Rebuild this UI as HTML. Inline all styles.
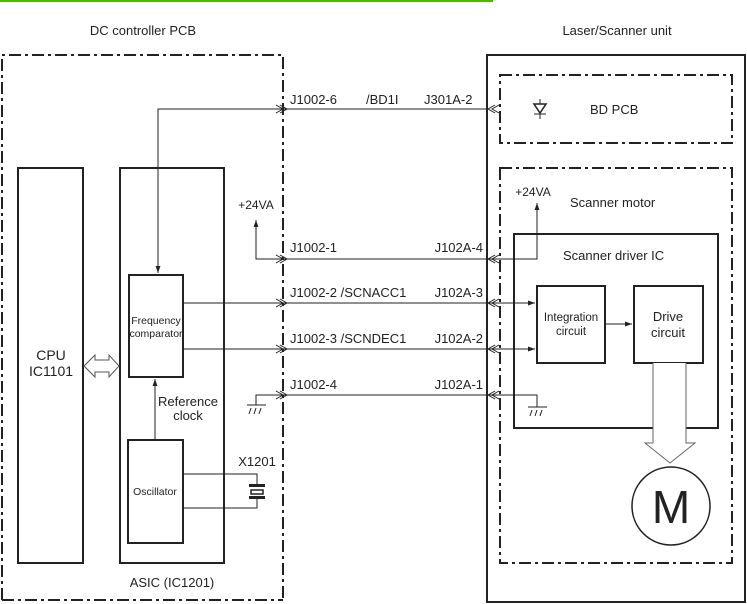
<!DOCTYPE html>
<html><head><meta charset="utf-8"><style>
html,body{margin:0;padding:0;background:#fff;}
svg{display:block;}
text{font-family:"Liberation Sans",Arial,sans-serif;fill:#222;}
</style></head><body>
<svg width="747" height="604" viewBox="0 0 747 604" xmlns="http://www.w3.org/2000/svg">
<defs>
<marker id="a" viewBox="0 0 10 10" refX="10" refY="5" markerWidth="7" markerHeight="7" orient="auto-start-reverse" markerUnits="userSpaceOnUse"><path d="M0,1.5 L10,5 L0,8.5 Z" fill="#222"/></marker>
</defs>
<rect x="0" y="0" width="493" height="2" fill="#4cb800"/>
<text x="143" y="35" font-size="13" text-anchor="middle">DC controller PCB</text>
<text x="617" y="35" font-size="13" text-anchor="middle">Laser/Scanner unit</text>

<g fill="none" stroke="#222" stroke-width="2" stroke-dasharray="12,4,3,4">
<path d="M2,600 L2,55 L283,55 L283,600"/>
<path d="M2,600 L283,600"/>
<rect x="500" y="75" width="232" height="68"/>
<rect x="500" y="168" width="232" height="395"/>
</g>
<rect x="487" y="55" width="258" height="547" fill="none" stroke="#222" stroke-width="2"/>

<g fill="none" stroke="#222" stroke-width="2">
<rect x="18" y="168" width="65" height="395"/>
<rect x="120" y="168" width="104" height="395"/>
<rect x="129" y="275" width="54" height="102"/>
<rect x="128" y="440" width="55" height="103"/>
<rect x="514" y="234" width="204" height="194"/>
<rect x="537" y="286" width="68" height="77"/>
<rect x="634" y="286" width="69" height="77"/>
</g>

<g fill="none" stroke="#222" stroke-width="1">
<!-- J1002-6 -->
<path d="M158,273 L158,109 L487,109" marker-start="url(#a)"/>
<path d="M183,303 L487,303"/>
<path d="M183,349 L487,349"/>
<path d="M256,220 L256,259 L537,259 L537,203" marker-start="url(#a)" marker-end="url(#a)"/>
<path d="M256,405 L256,395 L537,395 L537,407"/>
<path d="M487,303 L535,303" marker-end="url(#a)"/>
<path d="M487,349 L535,349" marker-end="url(#a)"/>
<path d="M605,324 L632,324" marker-end="url(#a)"/>
<path d="M155,440 L155,379" marker-end="url(#a)"/>
<path d="M183,474 L257,474 L257,484 M183,508 L257,508 L257,498"/>
<!-- chevrons left -->
<path d="M276,105 L283,109 L276,113 M280,105 L287,109 L280,113"/>
<path d="M276,255 L283,259 L276,263 M280,255 L287,259 L280,263"/>
<path d="M276,299 L283,303 L276,307 M280,299 L287,303 L280,307"/>
<path d="M276,345 L283,349 L276,353 M280,345 L287,349 L280,353"/>
<path d="M276,391 L283,395 L276,399 M280,391 L287,395 L280,399"/>
<!-- chevrons right -->
<path d="M495,105 L488,109 L495,113 M499,105 L492,109 L499,113"/>
<path d="M495,255 L488,259 L495,263 M499,255 L492,259 L499,263"/>
<path d="M495,299 L488,303 L495,307 M499,299 L492,303 L499,307"/>
<path d="M495,345 L488,349 L495,353 M499,345 L492,349 L499,353"/>
<path d="M495,391 L488,395 L495,399 M499,391 L492,395 L499,399"/>
<!-- grounds -->
<path d="M247,405 L266,405 M251,408 L249,414 M256,408 L254,414 M261,408 L259,414"/>
<path d="M528,407 L547,407 M532,410 L530,416 M537,410 L535,416 M542,410 L540,416"/>
<!-- diode -->
<path d="M540,99 L540,119 M534,114 L546,114"/>
<path d="M534,104 L546,104 L540,113 Z" fill="#fff" stroke-width="1.5"/>
<!-- bus arrow -->
<path d="M84,366 L95,355 L95,360 L109,360 L109,355 L119,366 L109,377 L109,372 L95,372 L95,377 Z" fill="#fff" stroke="#555"/>
<!-- hollow arrow -->
<path d="M653,363 L653,443 L645,443 L670,463 L695,443 L686,443 L686,363" fill="#fff" stroke="#666"/>
</g>
<rect x="249" y="484" width="16" height="3" fill="#222"/>
<rect x="251" y="490" width="12" height="4" fill="none" stroke="#222" stroke-width="1.5"/>
<rect x="249" y="496" width="16" height="3" fill="#222"/>
<circle cx="671" cy="506" r="39" fill="#fff" stroke="#222" stroke-width="1.5"/>
<text x="671" y="523" font-size="46" text-anchor="middle">M</text>

<g font-size="13">
<text x="290" y="104">J1002-6</text>
<text x="366" y="104">/BD1I</text>
<text x="424" y="104">J301A-2</text>
<text x="290" y="252">J1002-1</text>
<text x="483" y="252" text-anchor="end">J102A-4</text>
<text x="290" y="297">J1002-2 /SCNACC1</text>
<text x="483" y="297" text-anchor="end">J102A-3</text>
<text x="290" y="343">J1002-3 /SCNDEC1</text>
<text x="483" y="343" text-anchor="end">J102A-2</text>
<text x="290" y="389">J1002-4</text>
<text x="483" y="389" text-anchor="end">J102A-1</text>
<text x="256" y="209" text-anchor="middle" font-size="12">+24VA</text>
<text x="533" y="196" text-anchor="middle" font-size="12">+24VA</text>
<text x="570" y="207">Scanner motor</text>
<text x="563" y="260">Scanner driver IC</text>
<text x="590" y="114">BD PCB</text>
<text x="257" y="466" text-anchor="middle">X1201</text>
<text x="188" y="406" text-anchor="middle">Reference</text>
<text x="188" y="420" text-anchor="middle">clock</text>
<text x="172" y="587" text-anchor="middle">ASIC (IC1201)</text>
<text x="51" y="360" text-anchor="middle" font-size="14">CPU</text>
<text x="51" y="376" text-anchor="middle" font-size="14">IC1101</text>
<text x="668" y="321" text-anchor="middle">Drive</text>
<text x="668" y="337" text-anchor="middle">circuit</text>
</g>
<g font-size="10.5">
<text x="156" y="324" text-anchor="middle">Frequency</text>
<text x="156" y="337" text-anchor="middle">comparator</text>
<text x="155" y="495" text-anchor="middle">Oscillator</text>
<text x="571" y="321" text-anchor="middle" font-size="11.5">Integration</text>
<text x="571" y="335" text-anchor="middle" font-size="11.5">circuit</text>
</g>
</svg>
</body></html>
